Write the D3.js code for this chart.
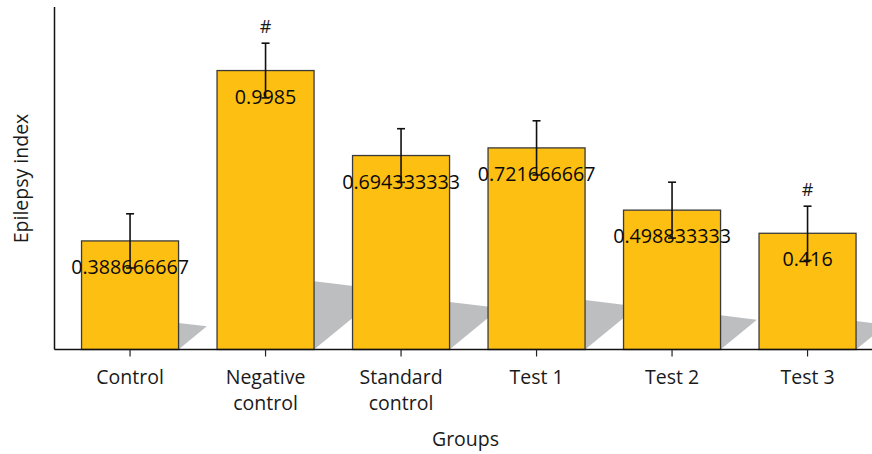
<!DOCTYPE html>
<html><head><meta charset="utf-8">
<script src="https://cdn.jsdelivr.net/npm/d3@7"></script>
<style>body{margin:0;background:#fff}text{font-family:"Open Sans",sans-serif}</style>
</head><body>
<svg id="c" width="872" height="454"></svg>
<script>
const categories = [["Control"], ["Negative", "control"], ["Standard", "control"], ["Test 1"], ["Test 2"], ["Test 3"]];
const values = [0.388666667, 0.9985, 0.694333333, 0.721666667, 0.498833333, 0.416];
const errors = [0.097, 0.098, 0.096, 0.097, 0.100, 0.097];
const marks = ["", "#", "", "", "", "#"];
const yLabel = "Epilepsy index";
const xLabel = "Groups";

const svg = d3.select("#c");
const y0 = 349.5;
const x = d3.scaleBand().domain(d3.range(values.length)).range([62.3, 875.3]).paddingInner(0.284).paddingOuter(0.142);
const y = d3.scaleLinear().domain([0, 1.226]).range([y0, 7]);

// shadows
const sh = svg.append("g");
values.forEach((v, i) => {
  const xr = x(i) + x.bandwidth();
  const h = y0 - y(v);
  const k1 = 0.245, s = 0.12, d = 0.82;
  const dx = k1 * h / (s + d);
  sh.append("path")
    .attr("d", `M${xr},${y0}L${xr},${y0 - k1 * h}L${xr + dx},${y0 - k1 * h + s * dx}Z`)
    .attr("fill", "#bcbec0");
});

// bars
svg.append("g").selectAll("rect").data(values).join("rect")
  .attr("x", (d, i) => x(i)).attr("y", d => y(d))
  .attr("width", x.bandwidth()).attr("height", d => y0 - y(d))
  .attr("fill", "#fdbf11").attr("stroke", "#3a3a3a").attr("stroke-width", 1.3);

// value labels
svg.append("g").selectAll("text").data(values).join("text")
  .attr("x", (d, i) => x(i) + x.bandwidth() / 2).attr("y", d => y(d) + 33)
  .attr("text-anchor", "middle").attr("font-size", 19.7).attr("fill", "#0a0a0a")
  .text(d => String(d));

// error bars
const eb = svg.append("g").attr("stroke", "#111").attr("stroke-width", 1.6);
values.forEach((v, i) => {
  const cx = x(i) + x.bandwidth() / 2;
  const t = y(v + errors[i]), b = y(v - errors[i]);
  eb.append("line").attr("x1", cx).attr("x2", cx).attr("y1", t).attr("y2", b);
  eb.append("line").attr("x1", cx - 4).attr("x2", cx + 4).attr("y1", t).attr("y2", t);
  eb.append("line").attr("x1", cx - 4).attr("x2", cx + 4).attr("y1", b).attr("y2", b);
  if (marks[i]) {
    svg.append("text").attr("x", cx).attr("y", t - 10.5).attr("text-anchor", "middle")
      .attr("font-size", 18).attr("fill", "#1a1a1a").text(marks[i]);
  }
});

// axes
svg.append("line").attr("x1", 54.5).attr("x2", 54.5).attr("y1", 7).attr("y2", y0).attr("stroke", "#111").attr("stroke-width", 1.5);
svg.append("line").attr("x1", 54.5).attr("x2", 872).attr("y1", y0).attr("y2", y0).attr("stroke", "#111").attr("stroke-width", 1.5);

const xa = svg.append("g").attr("transform", `translate(0,${y0})`)
  .call(d3.axisBottom(x).tickSize(7).tickFormat(""));
xa.select(".domain").remove();
xa.selectAll(".tick line").attr("stroke", "#222").attr("stroke-width", 1.2);
xa.selectAll(".tick").each(function(d) {
  const t = d3.select(this).append("text").attr("fill", "#1a1a1a").attr("font-size", 19.5)
    .attr("text-anchor", "middle");
  categories[d].forEach((line, j) => {
    t.append("tspan").attr("x", 0).attr("y", 34 + j * 26.7).text(line);
  });
});

svg.append("text").attr("x", 465.5).attr("y", 446).attr("text-anchor", "middle")
  .attr("font-size", 19.5).attr("fill", "#1a1a1a").text(xLabel);
svg.append("text").attr("transform", "translate(28,178.5) rotate(-90)").attr("text-anchor", "middle")
  .attr("font-size", 19.5).attr("fill", "#1a1a1a").text(yLabel);
</script>
</body></html>
